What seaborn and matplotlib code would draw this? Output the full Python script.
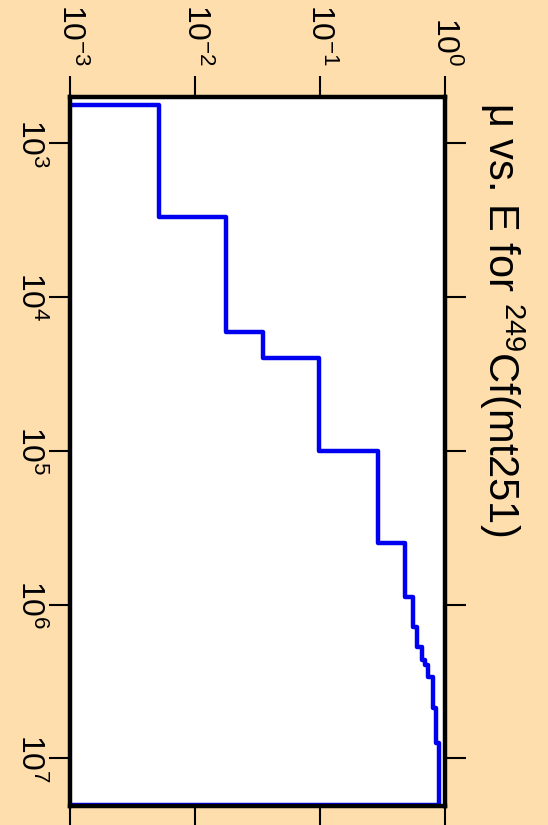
import numpy as np
import seaborn as sns
import matplotlib
matplotlib.use("Agg")
import matplotlib.pyplot as plt

# step edges in energy (eV) and mu value on each interval
energy_edges = [5.6e2, 3.0e3, 1.69e4, 2.51e4, 1.0e5, 4.0e5, 8.9e5, 1.39e6,
                1.88e6, 2.3e6, 2.47e6, 2.95e6, 4.73e6, 7.9e6, 2.0e7]
mu_values = [5.1e-3, 0.0176, 0.0349, 0.0985, 0.289, 0.479, 0.552, 0.601,
             0.659, 0.693, 0.736, 0.798, 0.849, 0.902]
mu_floor = 1e-4  # zero ends, clipped at the axis edge

mu_ticks = [1e-3, 1e-2, 1e-1, 1e0]
energy_ticks = [1e3, 1e4, 1e5, 1e6, 1e7]
title = r"μ vs. E for $^{249}$Cf(mt251)"

# polyline of the step curve
e_line = np.repeat(energy_edges, 2)
mu_line = np.concatenate([[mu_floor], np.repeat(mu_values, 2), [mu_floor]])

sns.set_style("white")
plt.rcParams['font.family'] = ['Liberation Sans', 'DejaVu Sans']
plt.rcParams['mathtext.fontset'] = 'custom'
plt.rcParams['mathtext.rm'] = 'Liberation Sans'
plt.rcParams['mathtext.it'] = 'Liberation Sans:italic'
plt.rcParams['mathtext.bf'] = 'Liberation Sans:bold'
plt.rcParams['mathtext.default'] = 'regular'
plt.rcParams['axes.unicode_minus'] = False
plt.rcParams['text.color'] = 'black'
plt.rcParams['xtick.color'] = 'black'
plt.rcParams['ytick.color'] = 'black'

bg = '#FFDEAD'
fig = plt.figure(figsize=(5.48, 8.25), dpi=100, facecolor=bg)
ax = fig.add_axes([0.1286, 0.0228, 0.6834, 0.8596])
ax.set_facecolor('white')
ax.set_xscale('log')
ax.set_yscale('log')

sns.lineplot(x=mu_line, y=e_line, sort=False, estimator=None,
             color='#0000F0', lw=3.2, ax=ax)

ax.set_xlim(1e-3, 1e0)
ax.set_ylim(2.05e7, 5e2)
ax.set_xticks(mu_ticks)
ax.set_yticks(energy_ticks)
ax.minorticks_off()
ax.set_xlabel('')
ax.set_ylabel('')

for s in ax.spines.values():
    s.set_linewidth(3.2)
    s.set_color('black')
    s.set_zorder(5)

ax.tick_params(axis='x', which='major', direction='out', length=15, width=1.5,
               top=True, bottom=True, labeltop=True, labelbottom=False,
               labelrotation=-90, pad=7, labelsize=23, colors='black')
ax.tick_params(axis='y', which='major', direction='out', length=15, width=1.5,
               left=True, right=True, labelleft=True, labelright=False,
               labelrotation=-90, pad=3, labelsize=23, colors='black')
plt.setp(ax.get_yticklabels(), va='center')

fig.text(0.915, 0.876, title, rotation=-90, ha='center', va='top', fontsize=30)

fig.savefig('out.png', dpi=100, facecolor=bg)
